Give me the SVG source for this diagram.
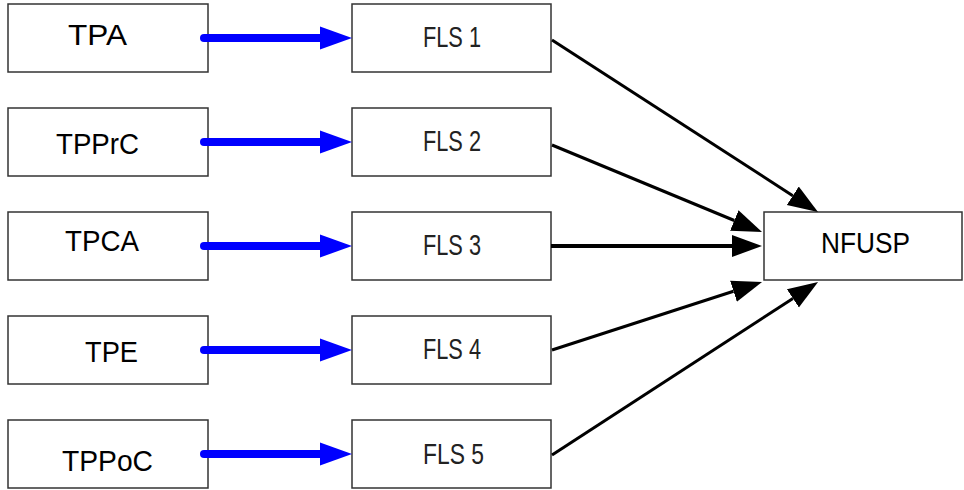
<svg xmlns="http://www.w3.org/2000/svg" width="964" height="490" viewBox="0 0 964 490">
<style>
.box{fill:#fff;stroke:#333;stroke-width:1.5}
.lt{font-family:"Liberation Sans",Arial,sans-serif;font-size:29px;fill:#000}
.ft{font-family:"Liberation Sans",Arial,sans-serif;font-size:30px;fill:#222;text-anchor:start}
.blue{stroke:#0000ff;stroke-width:8;stroke-linecap:round;fill:none;marker-end:url(#ab)}
.blk{stroke:#000;stroke-width:3;fill:none;marker-end:url(#ak)}
</style>
<defs>
<marker id="ab" markerUnits="userSpaceOnUse" viewBox="0 -12 33 24" markerWidth="33" markerHeight="24" refX="0" refY="0" orient="auto"><path d="M0,-11.5 L32,0 L0,11.5 z" fill="#0000ff"/></marker>
<marker id="ak" markerUnits="userSpaceOnUse" viewBox="0 -12 31 24" markerWidth="31" markerHeight="24" refX="0" refY="0" orient="auto"><path d="M0,-11 L30,0 L0,11 z" fill="#000"/></marker>
</defs>
<rect width="964" height="490" fill="#fff"/>
<g id="TPA"><rect class="box" x="8" y="4" width="200" height="68"/><text class="lt" x="68" y="45" textLength="59" lengthAdjust="spacingAndGlyphs">TPA</text></g>
<g id="TPPrC"><rect class="box" x="8" y="108" width="200" height="68"/><text class="lt" x="56" y="154" textLength="83" lengthAdjust="spacingAndGlyphs">TPPrC</text></g>
<g id="TPCA"><rect class="box" x="8" y="212" width="200" height="68"/><text class="lt" x="65" y="251" textLength="74" lengthAdjust="spacingAndGlyphs">TPCA</text></g>
<g id="TPE"><rect class="box" x="8" y="316" width="200" height="68"/><text class="lt" x="85" y="362" textLength="53" lengthAdjust="spacingAndGlyphs">TPE</text></g>
<g id="TPPoC"><rect class="box" x="8" y="420" width="200" height="68"/><text class="lt" x="62" y="471" textLength="91" lengthAdjust="spacingAndGlyphs">TPPoC</text></g>
<g id="FLS1"><rect class="box" x="352" y="4" width="199" height="68"/><text class="ft" x="423" y="47" textLength="58" lengthAdjust="spacingAndGlyphs">FLS 1</text></g>
<g id="FLS2"><rect class="box" x="352" y="108" width="199" height="68"/><text class="ft" x="423" y="151" textLength="58" lengthAdjust="spacingAndGlyphs">FLS 2</text></g>
<g id="FLS3"><rect class="box" x="352" y="212" width="199" height="68"/><text class="ft" x="423" y="255" textLength="58" lengthAdjust="spacingAndGlyphs">FLS 3</text></g>
<g id="FLS4"><rect class="box" x="352" y="316" width="199" height="68"/><text class="ft" x="423" y="359" textLength="58" lengthAdjust="spacingAndGlyphs">FLS 4</text></g>
<g id="FLS5"><rect class="box" x="352" y="420" width="199" height="68"/><text class="ft" x="423" y="464" textLength="61" lengthAdjust="spacingAndGlyphs">FLS 5</text></g>
<g id="NFUSP"><rect class="box" x="764" y="212" width="198" height="68"/><text class="lt" x="821" y="253" font-size="28" textLength="89" lengthAdjust="spacingAndGlyphs">NFUSP</text></g>
<g id="connectors">
<line class="blue" x1="204" y1="38" x2="320" y2="38"/>
<line class="blue" x1="204" y1="142" x2="320" y2="142"/>
<line class="blue" x1="204" y1="246" x2="320" y2="246"/>
<line class="blue" x1="204" y1="350" x2="320" y2="350"/>
<line class="blue" x1="204" y1="454" x2="320" y2="454"/>
<line class="blk" x1="552" y1="40" x2="792.8" y2="195.7"/>
<line class="blk" x1="552" y1="145" x2="734.3" y2="220.5"/>
<line class="blk" x1="551" y1="246" x2="732" y2="246" style="stroke-width:4"/>
<line class="blk" x1="552" y1="350" x2="733.5" y2="291.2"/>
<line class="blk" x1="552" y1="455" x2="792.9" y2="298.4"/>
</g>
</svg>
